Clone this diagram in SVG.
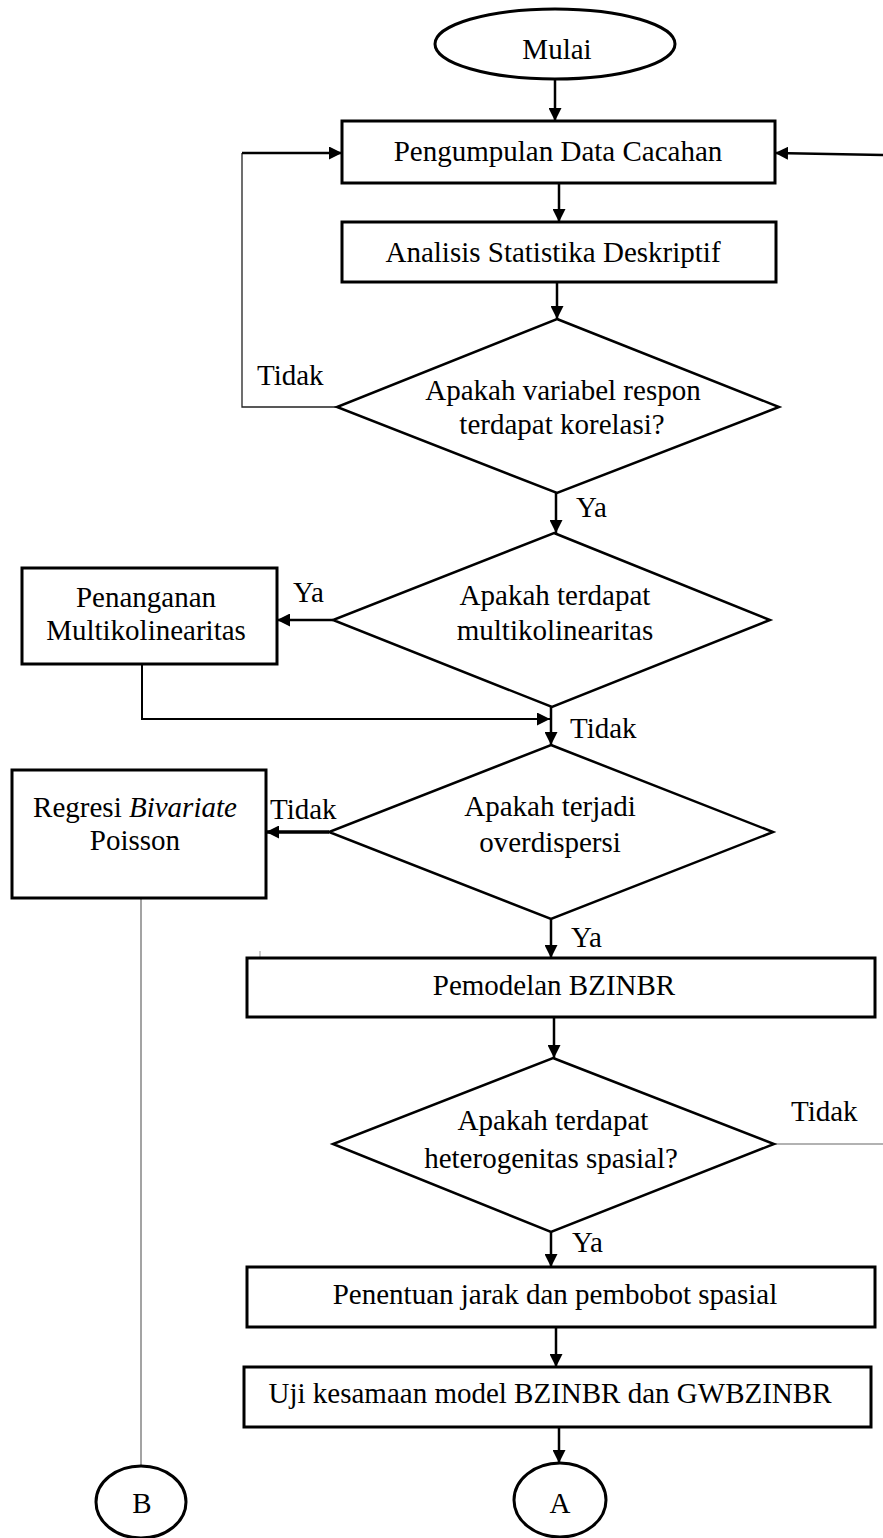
<svg xmlns="http://www.w3.org/2000/svg" width="883" height="1538" viewBox="0 0 883 1538">
  <defs>
    <marker id="arrow" markerUnits="userSpaceOnUse" markerWidth="13" markerHeight="13" refX="13" refY="6.5" orient="auto">
      <path d="M0,0 L13,6.5 L0,13 z" fill="#000"/>
    </marker>
    <style>
      .box { fill: #fff; stroke: #000; stroke-width: 3; }
      .dia { fill: #fff; stroke: #000; stroke-width: 2.5; }
      .term { fill: #fff; stroke: #000; stroke-width: 3; }
      text { font-family: "Liberation Serif", "Times New Roman", serif; font-size: 29px; fill: #000; }
      .c { text-anchor: middle; }
      .lbl { font-size: 29px; }
      .flow { fill: none; stroke: #000; stroke-width: 2.5; }
      .thin { fill: none; stroke: #222; stroke-width: 1.3; }
      .faint { fill: none; stroke: #666; stroke-width: 1.2; }
    </style>
  </defs>
  <rect width="883" height="1538" fill="#fff"/>

  <!-- connectors -->
  <g id="connectors">
    <line class="flow" x1="555" y1="79" x2="555" y2="121" marker-end="url(#arrow)"/>
    <line class="flow" x1="559" y1="183" x2="559" y2="222" marker-end="url(#arrow)"/>
    <line class="flow" x1="557" y1="282" x2="557" y2="319" marker-end="url(#arrow)"/>
    <!-- loop back when no correlation -->
    <polyline class="thin" points="337,407 242,407 242,153"/>
    <line class="flow" x1="242" y1="153" x2="342" y2="153" marker-end="url(#arrow)"/>
    <!-- return from heterogeneity test (right edge) -->
    <line class="flow" x1="883" y1="155" x2="775" y2="153" marker-end="url(#arrow)"/>
    <line class="flow" x1="556" y1="493" x2="556" y2="533" marker-end="url(#arrow)"/>
    <line class="flow" x1="333" y1="620" x2="277" y2="620" marker-end="url(#arrow)"/>
    <polyline class="flow" style="stroke-width:2" points="142,664 142,719 550,719" marker-end="url(#arrow)"/>
    <line class="flow" x1="551" y1="707" x2="551" y2="745" marker-end="url(#arrow)"/>
    <line class="flow" style="stroke-width:3.5" x1="329" y1="832" x2="266" y2="832" marker-end="url(#arrow)"/>
    <line class="faint" x1="141" y1="898" x2="141" y2="1466"/>
    <line class="flow" x1="551" y1="919" x2="551" y2="958" marker-end="url(#arrow)"/>
    <line class="flow" x1="554" y1="1017" x2="554" y2="1058" marker-end="url(#arrow)"/>
    <line class="faint" x1="774" y1="1144" x2="883" y2="1144"/>
    <line class="flow" x1="551" y1="1232" x2="551" y2="1267" marker-end="url(#arrow)"/>
    <line class="flow" x1="556" y1="1327" x2="556" y2="1367" marker-end="url(#arrow)"/>
    <line class="flow" x1="559" y1="1427" x2="559" y2="1463" marker-end="url(#arrow)"/>
    <line x1="260" y1="951" x2="260" y2="957" stroke="#999" stroke-width="1"/>

    <text class="lbl" x="257" y="385">Tidak</text>
    <text class="lbl" x="576" y="517">Ya</text>
    <text class="lbl" x="293" y="602">Ya</text>
    <text class="lbl" x="570" y="738">Tidak</text>
    <text class="lbl" x="270" y="819">Tidak</text>
    <text class="lbl" x="571" y="947">Ya</text>
    <text class="lbl" x="791" y="1121">Tidak</text>
    <text class="lbl" x="572" y="1252">Ya</text>
  </g>

  <g id="mulai">
    <ellipse class="term" cx="555" cy="44" rx="120" ry="35"/>
    <text class="c" x="557" y="59">Mulai</text>
  </g>

  <g id="pengumpulan">
    <rect class="box" x="342" y="121" width="433" height="62"/>
    <text class="c" x="558" y="161">Pengumpulan Data Cacahan</text>
  </g>

  <g id="analisis">
    <rect class="box" x="342" y="222" width="434" height="60"/>
    <text class="c" x="553" y="262">Analisis Statistika Deskriptif</text>
  </g>

  <g id="cek-korelasi">
    <polygon class="dia" points="557,319 779,407 557,493 337,407"/>
    <text class="c" x="563" y="400">Apakah variabel respon</text>
    <text class="c" x="562" y="434">terdapat korelasi?</text>
  </g>

  <g id="cek-multikolinearitas">
    <polygon class="dia" points="554,533 770,620 552,707 333,620"/>
    <text class="c" x="555" y="605">Apakah terdapat</text>
    <text class="c" x="555" y="640">multikolinearitas</text>
  </g>

  <g id="penanganan">
    <rect class="box" x="22" y="568" width="255" height="96"/>
    <text class="c" x="146" y="607">Penanganan</text>
    <text class="c" x="146" y="640">Multikolinearitas</text>
  </g>

  <g id="cek-overdispersi">
    <polygon class="dia" points="551,745 773,832 551,919 329,832"/>
    <text class="c" x="550" y="816">Apakah terjadi</text>
    <text class="c" x="550" y="852">overdispersi</text>
  </g>

  <g id="regresi-bp">
    <rect class="box" x="12" y="770" width="254" height="128"/>
    <text class="c" x="135" y="817">Regresi <tspan font-style="italic">Bivariate</tspan></text>
    <text class="c" x="135" y="850">Poisson</text>
  </g>

  <g id="pemodelan">
    <rect class="box" x="247" y="958" width="628" height="59"/>
    <text class="c" x="554" y="995">Pemodelan BZINBR</text>
  </g>

  <g id="cek-heterogenitas">
    <polygon class="dia" points="553,1058 774,1144 551,1232 333,1144"/>
    <text class="c" x="553" y="1130">Apakah terdapat</text>
    <text class="c" x="551" y="1168">heterogenitas spasial?</text>
  </g>

  <g id="penentuan">
    <rect class="box" x="247" y="1267" width="628" height="60"/>
    <text class="c" x="555" y="1304">Penentuan jarak dan pembobot spasial</text>
  </g>

  <g id="uji">
    <rect class="box" x="244" y="1367" width="627" height="60"/>
    <text class="c" x="550" y="1403">Uji kesamaan model BZINBR dan GWBZINBR</text>
  </g>

  <g id="konektor-a">
    <ellipse class="term" cx="560" cy="1500" rx="46" ry="37"/>
    <text class="c" x="560" y="1513">A</text>
  </g>

  <g id="konektor-b">
    <ellipse class="term" cx="141" cy="1502" rx="45" ry="36"/>
    <text class="c" x="142" y="1513">B</text>
  </g>
</svg>
